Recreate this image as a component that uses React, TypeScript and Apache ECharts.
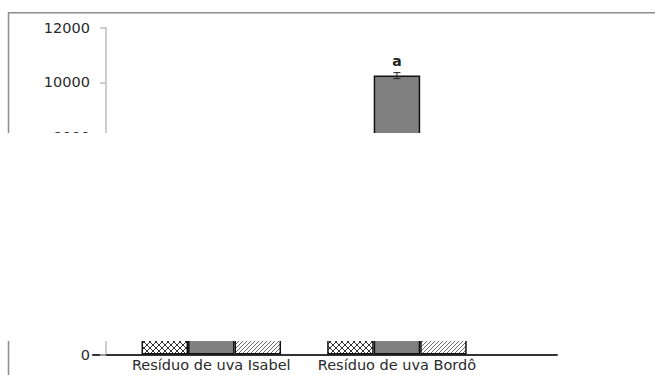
import React, { useEffect, useRef } from "react";
import * as echarts from "echarts";

const categories = ["Resíduo de uva Isabel", "Resíduo de uva Bordô"];
const categoryPositions = [1, 2];
const yTicks = { min: 0, max: 12000, interval: 2000 };
// Only the middle Bordô bar is readable; the other bars are hidden behind the blank band (estimated).
const crossValues = [6100, 6800];
const greyValues = [7000, 10250];
const diagValues = [5400, 6500];
const crossErrors = [150, 150];
const greyErrors = [150, 110];
const diagErrors = [150, 150];
const greyLetters = ["", "a"];

function makeCross(): HTMLCanvasElement {
  const c = document.createElement("canvas");
  c.width = 6;
  c.height = 6;
  const ctx = c.getContext("2d")!;
  ctx.fillStyle = "#ffffff";
  ctx.fillRect(0, 0, 6, 6);
  ctx.strokeStyle = "#333333";
  ctx.lineWidth = 1;
  ctx.beginPath();
  ctx.moveTo(0, 0);
  ctx.lineTo(6, 6);
  ctx.moveTo(6, 0);
  ctx.lineTo(0, 6);
  ctx.stroke();
  return c;
}

function makeDiag(): HTMLCanvasElement {
  const c = document.createElement("canvas");
  c.width = 4;
  c.height = 4;
  const ctx = c.getContext("2d")!;
  ctx.fillStyle = "#ffffff";
  ctx.fillRect(0, 0, 4, 4);
  ctx.strokeStyle = "#666666";
  ctx.lineWidth = 1;
  ctx.beginPath();
  ctx.moveTo(-1, 5);
  ctx.lineTo(5, -1);
  ctx.moveTo(-1, 1);
  ctx.lineTo(1, -1);
  ctx.moveTo(3, 5);
  ctx.lineTo(5, 3);
  ctx.stroke();
  return c;
}

const BAR_W = 46.5;

export default function App() {
  const ref = useRef<HTMLDivElement>(null);
  useEffect(() => {
    if (!ref.current) return;
    const chart = echarts.init(ref.current, undefined, { renderer: "svg" });
    const cross = makeCross();
    const diag = makeDiag();
    const errData: any[] = [];
    categoryPositions.forEach((p, i) => {
      errData.push([p, crossValues[i], crossErrors[i], -1]);
      errData.push([p, greyValues[i], greyErrors[i], 0]);
      errData.push([p, diagValues[i], diagErrors[i], 1]);
    });
    const font = "DejaVu Sans";
    const barBase = {
      type: "bar",
      barWidth: BAR_W,
      barGap: "0%",
      z: 2,
    };
    chart.setOption({
      animation: false,
      backgroundColor: "#ffffff",
      grid: { left: 93, right: 98, top: 28, bottom: 20.5 },
      xAxis: {
        type: "value",
        min: 0.363,
        max: 2.862,
        splitLine: { show: false },
        axisTick: { show: false },
        axisLine: { show: true, lineStyle: { color: "#333333", width: 2 } },
        axisLabel: {
          customValues: categoryPositions,
          formatter: (v: number) => categories[Math.round(v) - 1] ?? "",
          color: "#2a2a2a",
          fontFamily: font,
          fontSize: 14.5,
          margin: 3,
        },
      },
      yAxis: {
        type: "value",
        min: yTicks.min,
        max: yTicks.max,
        interval: yTicks.interval,
        offset: -13,
        splitLine: { show: false },
        axisLine: { show: true, lineStyle: { color: "#bdbdbd", width: 1.5 } },
        axisTick: { show: true, length: 6, lineStyle: { color: "#bdbdbd", width: 1.5 } },
        axisLabel: {
          color: "#2a2a2a",
          fontFamily: font,
          fontSize: 14.5,
          margin: 16,
          formatter: (v: number) => String(v),
        },
      },
      series: [
        {
          ...barBase,
          data: categoryPositions.map((p, i) => [p, crossValues[i]]),
          itemStyle: {
            color: { image: cross, repeat: "repeat" },
            borderColor: "#111111",
            borderWidth: 1.5,
          },
        },
        {
          ...barBase,
          data: categoryPositions.map((p, i) => [p, greyValues[i]]),
          itemStyle: { color: "#808080", borderColor: "#111111", borderWidth: 1.5 },
          label: {
            show: true,
            position: "top",
            distance: 8,
            formatter: (p: any) => greyLetters[p.dataIndex],
            color: "#222222",
            fontFamily: font,
            fontWeight: "bold",
            fontSize: 14,
          },
        },
        {
          ...barBase,
          data: categoryPositions.map((p, i) => [p, diagValues[i]]),
          itemStyle: {
            color: { image: diag, repeat: "repeat" },
            borderColor: "#111111",
            borderWidth: 1.5,
          },
        },
        {
          type: "custom",
          z: 5,
          data: errData,
          renderItem: (params: any, api: any) => {
            const x = api.value(0);
            const v = api.value(1);
            const e = api.value(2);
            const off = api.value(3) * BAR_W;
            const top = api.coord([x, v + e]);
            const bot = api.coord([x, v - e]);
            const cx = top[0] + off;
            const cap = 3.5;
            const style = { stroke: "#222222", lineWidth: 1 };
            return {
              type: "group",
              children: [
                { type: "line", shape: { x1: cx, y1: top[1], x2: cx, y2: bot[1] }, style },
                { type: "line", shape: { x1: cx - cap, y1: top[1], x2: cx + cap, y2: top[1] }, style },
                { type: "line", shape: { x1: cx - cap, y1: bot[1], x2: cx + cap, y2: bot[1] }, style },
              ],
            };
          },
        },
      ],
      graphic: [
        {
          type: "rect",
          z: -1,
          silent: true,
          shape: { x: 8.5, y: 12.75, width: 700, height: 420 },
          style: { fill: "none", stroke: "#8c8c8c", lineWidth: 1.5 },
        },
        {
          type: "rect",
          z: 100,
          silent: true,
          shape: { x: 0, y: 133, width: 655, height: 208 },
          style: { fill: "#ffffff" },
        },
      ],
    });
    return () => chart.dispose();
  }, []);
  return (
    <div
      ref={ref}
      style={{ position: "fixed", left: 0, top: 0, width: 655, height: 375, background: "#ffffff" }}
    />
  );
}
